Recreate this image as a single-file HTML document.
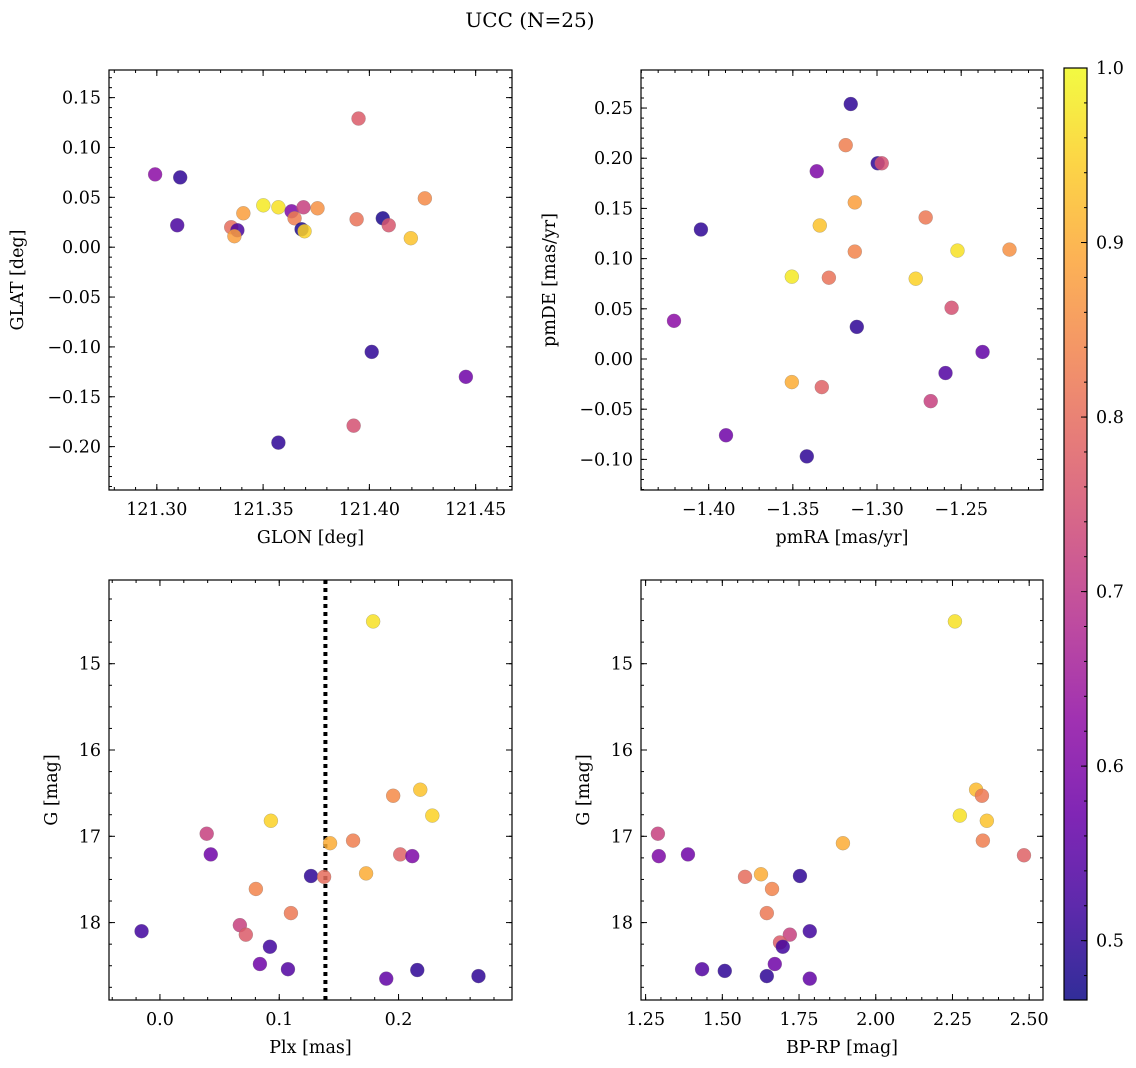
<!DOCTYPE html>
<html><head><meta charset="utf-8"><style>
html,body{margin:0;padding:0;background:#fff;}
svg{display:block;font-family:"DejaVu Serif","Liberation Serif",serif;}
</style></head><body>
<svg id="fig" width="1136" height="1068" viewBox="0 0 1136 1068" xmlns="http://www.w3.org/2000/svg">
<text x="530" y="27" text-anchor="middle" font-size="20">UCC (N=25)</text>
</svg>
<script>
// Panel 1: GLON vs GLAT
const glon1 = [121.2992,121.3110,121.3096,121.3350,121.3379,121.3365,121.3407,121.3501,121.3572,121.3634,121.3690,121.3648,121.3681,121.3695,121.3756,121.3949,121.3940,121.4063,121.4091,121.4195,121.4261,121.4011,121.4454,121.3926,121.3572];
const glat1 = [0.073,0.070,0.022,0.020,0.017,0.011,0.034,0.042,0.040,0.036,0.040,0.029,0.018,0.016,0.039,0.129,0.028,0.029,0.022,0.009,0.049,-0.105,-0.130,-0.179,-0.196];
const prob1 = [0.62,0.50,0.53,0.80,0.53,0.88,0.88,0.98,0.97,0.60,0.72,0.83,0.48,0.95,0.86,0.77,0.81,0.48,0.76,0.93,0.85,0.50,0.58,0.75,0.50];
// Panel 2: pmRA vs pmDE
const pmra2 = [-1.3156,-1.3186,-1.2996,-1.2972,-1.3358,-1.3132,-1.3340,-1.2711,-1.4046,-1.3132,-1.2522,-1.2213,-1.3506,-1.3286,-1.2770,-1.2557,-1.4206,-1.3120,-1.2373,-1.2593,-1.3506,-1.3328,-1.2681,-1.3897,-1.3417];
const pmde2 = [0.254,0.213,0.195,0.195,0.187,0.156,0.133,0.141,0.129,0.107,0.108,0.109,0.082,0.081,0.080,0.051,0.038,0.032,0.007,-0.014,-0.023,-0.028,-0.042,-0.076,-0.097];
const prob2 = [0.50,0.83,0.50,0.75,0.60,0.88,0.93,0.82,0.50,0.84,0.97,0.86,0.98,0.81,0.95,0.75,0.62,0.50,0.56,0.54,0.90,0.78,0.72,0.58,0.50];
// Panel 3: Plx vs G
const plx3 = [0.1787,0.2182,0.1955,0.2283,0.0930,0.0392,0.1619,0.1426,0.0426,0.2014,0.2115,0.1266,0.1376,0.1728,0.0804,0.1098,-0.0154,0.0670,0.0720,0.0922,0.0838,0.1073,0.2157,0.1897,0.2670];
const g3 = [14.51,16.46,16.53,16.76,16.82,16.97,17.05,17.08,17.21,17.21,17.23,17.46,17.47,17.43,17.61,17.89,18.10,18.03,18.14,18.28,18.48,18.54,18.55,18.65,18.62];
const prob3 = [0.97,0.93,0.85,0.95,0.95,0.72,0.83,0.90,0.58,0.78,0.60,0.50,0.80,0.90,0.84,0.82,0.52,0.72,0.77,0.52,0.58,0.54,0.50,0.56,0.50];
const plxLine = 0.1387;
// Panel 4: BP-RP vs G
const bprp4 = [2.258,2.327,2.346,2.274,2.362,2.349,2.483,1.893,1.290,1.293,1.388,1.574,1.626,1.662,1.645,1.753,1.720,1.688,1.785,1.697,1.671,1.434,1.508,1.645,1.785];
const g4 = [14.51,16.46,16.53,16.76,16.82,17.05,17.22,17.08,16.97,17.23,17.21,17.47,17.44,17.61,17.89,17.46,18.14,18.23,18.10,18.28,18.48,18.54,18.56,18.62,18.65];
const prob4 = [0.97,0.92,0.82,0.97,0.93,0.83,0.78,0.90,0.72,0.60,0.58,0.80,0.90,0.84,0.82,0.50,0.72,0.77,0.52,0.52,0.58,0.54,0.50,0.50,0.56];
// Tick labels
const ticks1x = [121.30,121.35,121.40,121.45];
const ticks1y = [0.15,0.10,0.05,0.00,-0.05,-0.10,-0.15,-0.20];
const ticks2x = [-1.40,-1.35,-1.30,-1.25];
const ticks2y = [0.25,0.20,0.15,0.10,0.05,0.00,-0.05,-0.10];
const ticks3x = [0.0,0.1,0.2];
const ticksG = [15,16,17,18];
const ticks4x = [1.25,1.50,1.75,2.00,2.25,2.50];
const ticksCb = [0.5,0.6,0.7,0.8,0.9,1.0];
const vmin = 0.466, vmax = 1.0;

const NS = "http://www.w3.org/2000/svg";
const svg = document.getElementById('fig');
const FS = 17.5;
function mk(tag, attrs, parent){ const e=document.createElementNS(NS,tag); for(const k in attrs) e.setAttribute(k,attrs[k]); (parent||svg).appendChild(e); return e; }
const stops=[[13,8,135],[65,4,157],[106,0,168],[143,13,164],[177,42,144],[204,71,120],[225,100,98],[242,132,75],[252,166,54],[252,206,37],[240,249,33]];
function plasma(v){ let t=(v-vmin)/(vmax-vmin); t=Math.max(0,Math.min(1,t)); const f=t*10, i=Math.min(9,Math.floor(f)), r=f-i; const a=stops[i], b=stops[i+1]; return 'rgb('+a.map((c,k)=>Math.round(c+(b[k]-c)*r)).join(',')+')'; }
function fmt(v,d){ const s=Math.abs(v).toFixed(d); return (v<-1e-9?'\u2212':'')+s; }

function panel(o){
  const g=mk('g',{});  
  const sx=v=>o.L+(v-o.x0)/(o.x1-o.x0)*(o.R-o.L);
  const sy=v=>o.T+(v-o.y0)/(o.y1-o.y0)*(o.B-o.T);
  const minor=(lo,hi,st,f)=>{ for(let v=Math.ceil(lo/st-1e-6)*st; v<=hi+1e-9; v+=st) f(v); };
  const tk=mk('g',{stroke:'#000','stroke-width':1},g);  
  minor(Math.min(o.x0,o.x1),Math.max(o.x0,o.x1),o.xmin,v=>{const x=sx(v); mk('line',{x1:x,x2:x,y1:o.B,y2:o.B-3},tk); mk('line',{x1:x,x2:x,y1:o.T,y2:o.T+3},tk);});
  minor(Math.min(o.y0,o.y1),Math.max(o.y0,o.y1),o.ymin,v=>{const y=sy(v); mk('line',{x1:o.L,x2:o.L+3,y1:y,y2:y},tk); mk('line',{x1:o.R,x2:o.R-3,y1:y,y2:y},tk);});
  o.xt.forEach(v=>{const x=sx(v); mk('line',{x1:x,x2:x,y1:o.B,y2:o.B-6},tk); mk('line',{x1:x,x2:x,y1:o.T,y2:o.T+6},tk);
    const t=mk('text',{x:x,y:o.B+25,'text-anchor':'middle','font-size':FS},g); t.textContent=fmt(v,o.xd);
     });
  o.yt.forEach(v=>{const y=sy(v); mk('line',{x1:o.L,x2:o.L+6,y1:y,y2:y},tk); mk('line',{x1:o.R,x2:o.R-6,y1:y,y2:y},tk);
    const t=mk('text',{x:o.L-8,y:y+6,'text-anchor':'end','font-size':FS},g); t.textContent=fmt(v,o.yd);
     });
  if(o.vline!==undefined){ const x=sx(o.vline); const l=mk('line',{x1:x,x2:x,y1:o.T,y2:o.B,stroke:'#000','stroke-width':4,'stroke-dasharray':'4 4'},g);
      }
  const pts=mk('g',{},g);  
  o.xs.forEach((xv,i)=>{ const c=mk('circle',{cx:sx(xv),cy:sy(o.ys[i]),r:7,fill:plasma(o.ps[i]),'fill-opacity':0.85,stroke:'#777','stroke-opacity':0.5,'stroke-width':0.5},pts);
      });
  const fr=mk('rect',{x:o.L,y:o.T,width:o.R-o.L,height:o.B-o.T,fill:'none',stroke:'#000','stroke-width':1.2},g);
   
  const xl=mk('text',{x:(o.L+o.R)/2,y:o.B+53,'text-anchor':'middle','font-size':FS},g); xl.textContent=o.xlab;
   
  const cy=(o.T+o.B)/2; const yl=mk('text',{x:o.ylx,y:cy,'text-anchor':'middle','font-size':FS,transform:'rotate(-90 '+o.ylx+' '+cy+')'},g); yl.textContent=o.ylab;
   
}
const TT=70,TB=490,BT=580,BB=1000,LL=109,LR=512,RL=641,RR=1043;
panel({name:'glon-glat-panel',L:LL,R:LR,T:TT,B:TB,x0:121.2775,x1:121.4671,y0:0.1777,y1:-0.2435,xmin:0.01,ymin:0.01,xt:ticks1x,yt:ticks1y,xd:2,yd:2,xs:glon1,ys:glat1,ps:prob1,xlab:'GLON [deg]',ylab:'GLAT [deg]',ylx:23});
panel({name:'pm-panel',L:RL,R:RR,T:TT,B:TB,x0:-1.4402,x1:-1.2014,y0:0.2879,y1:-0.1305,xmin:0.01,ymin:0.01,xt:ticks2x,yt:ticks2y,xd:2,yd:2,xs:pmra2,ys:pmde2,ps:prob2,xlab:'pmRA [mas/yr]',ylab:'pmDE [mas/yr]',ylx:555});
panel({name:'plx-g-panel',L:LL,R:LR,T:BT,B:BB,x0:-0.0427,x1:0.2951,y0:14.03,y1:18.897,xmin:0.02,ymin:0.25,xt:ticks3x,yt:ticksG,xd:1,yd:0,xs:plx3,ys:g3,ps:prob3,xlab:'Plx [mas]',ylab:'G [mag]',ylx:57,vline:plxLine});
panel({name:'cmd-panel',L:RL,R:RR,T:BT,B:BB,x0:1.235,x1:2.545,y0:14.03,y1:18.897,xmin:0.05,ymin:0.25,xt:ticks4x,yt:ticksG,xd:2,yd:0,xs:bprp4,ys:g4,ps:prob4,xlab:'BP-RP [mag]',ylab:'G [mag]',ylx:589});

// Colorbar
const cbL=1064,cbR=1087,cbT=68,cbB=1000;
const cbY=v=>cbB-(v-vmin)/(vmax-vmin)*(cbB-cbT);
const cb=mk('g',{});  
const defs=mk('defs',{}); const lg=mk('linearGradient',{id:'plasmaG',x1:0,y1:1,x2:0,y2:0},defs);
for(let i=0;i<=20;i++){ mk('stop',{offset:(i/20),'stop-color':plasma(vmin+(vmax-vmin)*i/20),'stop-opacity':0.85},lg); }
const cr=mk('rect',{x:cbL,y:cbT,width:cbR-cbL,height:cbB-cbT,fill:'url(#plasmaG)',stroke:'#000','stroke-width':1.2},cb);
 
for(let v=0.48; v<=1.0001; v+=0.02){ const y=cbY(v); mk('line',{x1:cbR,x2:cbR-3,y1:y,y2:y,stroke:'#000'},cb); }
ticksCb.forEach(v=>{ const y=cbY(v); mk('line',{x1:cbR,x2:cbR-6,y1:y,y2:y,stroke:'#000'},cb);
  const t=mk('text',{x:cbR+9,y:y+6,'font-size':FS},cb); t.textContent=v.toFixed(1);
    });
</script>
</body></html>
